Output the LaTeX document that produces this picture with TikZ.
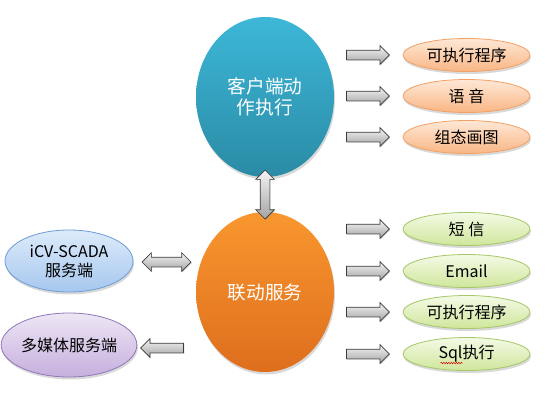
\documentclass[tikz,border=0pt]{standalone}
\usepackage{fontspec}
\newfontfamily\cjk{Noto Sans CJK SC}
\usetikzlibrary{shapes.geometric, shapes.arrows, shadows, decorations.pathmorphing}
\definecolor{clitop}{HTML}{3DB7D8}
\definecolor{clibot}{HTML}{2A8BA5}
\definecolor{svctop}{HTML}{F9972F}
\definecolor{svcbot}{HTML}{DE6E1D}
\definecolor{acttop}{HTML}{FEE8D6}
\definecolor{actbot}{HTML}{F9B684}
\definecolor{actedge}{HTML}{F2A064}
\definecolor{msgtop}{HTML}{F4FAE6}
\definecolor{msgbot}{HTML}{CFE69B}
\definecolor{msgedge}{HTML}{A4C767}
\definecolor{srvtop}{HTML}{DDEBFB}
\definecolor{srvbot}{HTML}{A6C7EE}
\definecolor{srvedge}{HTML}{6E9CD5}
\definecolor{medtop}{HTML}{EEE6F5}
\definecolor{medbot}{HTML}{C6AFDD}
\definecolor{mededge}{HTML}{9078B9}
\definecolor{arrtop}{HTML}{F4F4F4}
\definecolor{arrbot}{HTML}{A4A4A4}
\definecolor{arredge}{HTML}{3A3A3A}
\tikzset{
  % ombra comune
  soft/.style={drop shadow={shadow xshift=1pt, shadow yshift=-2.5pt, opacity=.3}},
  % ellisse grande (client / servizio)
  bigell/.style={ellipse, soft, minimum width=138pt, minimum height=160pt, inner sep=0pt,
    align=center, text=white, font=\cjk\fontsize{18.7}{21}\selectfont},
  % ellissi piccole
  smallell/.style={ellipse, soft, minimum width=127pt, minimum height=33pt, inner sep=0pt,
    align=center, line width=.8pt, font=\cjk\fontsize{16}{19}\selectfont},
  actell/.style={smallell, draw=actedge, top color=acttop, bottom color=actbot},
  msgell/.style={smallell, draw=msgedge, top color=msgtop, bottom color=msgbot},
  srvell/.style={smallell, draw=srvedge, top color=srvtop, bottom color=srvbot,
    minimum width=128pt, minimum height=62pt},
  medell/.style={smallell, draw=mededge, top color=medtop, bottom color=medbot,
    minimum width=128pt, minimum height=64pt},
  % frecce a blocco
  blk/.style={draw=arredge, line width=.7pt, top color=arrtop, bottom color=arrbot,
    inner xsep=0pt, inner ysep=4.5pt,
    drop shadow={shadow xshift=.8pt, shadow yshift=-1pt, opacity=.35}},
  rarr/.style={blk, single arrow, single arrow head extend=4.5pt, minimum height=43pt},
  larr/.style={rarr, shape border rotate=180},
  dbarr/.style={blk, double arrow, double arrow head extend=4.5pt, minimum height=49pt},
  vdbarr/.style={dbarr, rotate=90},
  % sottolineatura ortografica
  spell/.style={red!85!black, line width=.5pt, decorate,
    decoration={snake, amplitude=.7pt, segment length=2.5pt}},
}
\begin{document}
\begin{tikzpicture}[x=1pt, y=-1pt]
  \useasboundingbox (0,0) rectangle (545,404);
  \node[bigell, top color=clitop, bottom color=clibot] (cli) at (265,97) {客户端动\\作执行};
  \node[bigell, top color=svctop, bottom color=svcbot] (svc) at (265,292) {联动服务};
  \coordinate (cb) at (265,170);
  \coordinate (st) at (265,219);
  \path (cb) -- node[vdbarr] {} (st);
  % azioni lato client
  \foreach \t/\y [count=\i] in {可执行程序/55, 语\ 音/96, 组态画图/137} {
    \node[actell] (a\i) at (466.5,\y) {\t};
    \coordinate (as\i) at (344,\y);
    \coordinate (ae\i) at (387,\y);
    \path (as\i) -- node[rarr] {} (ae\i);
  }
  % azioni del servizio
  \foreach \t/\y [count=\i] in {短\ 信/229, Email/271, 可执行程序/312, Sql执行/354} {
    \node[msgell] (m\i) at (466.5,\y) {\t};
    \coordinate (ms\i) at (344,\y);
    \coordinate (me\i) at (387,\y);
    \path (ms\i) -- node[rarr] {} (me\i);
  }
  \draw[spell] ([xshift=-26pt, yshift=-9pt]m4.center) -- ++(22,0);
  % server e multimedia
  \node[srvell] (srv) at (69,261) {iCV-SCADA\\服务端};
  \node[medell] (med) at (69,345) {多媒体服务端};
  \coordinate (ls1) at (142,262);
  \coordinate (le1) at (191,262);
  \path (ls1) -- node[dbarr] {} (le1);
  \coordinate (ls2) at (143,348);
  \coordinate (le2) at (186,348);
  \path (le2) -- node[larr] {} (ls2);
\end{tikzpicture}
\end{document}
